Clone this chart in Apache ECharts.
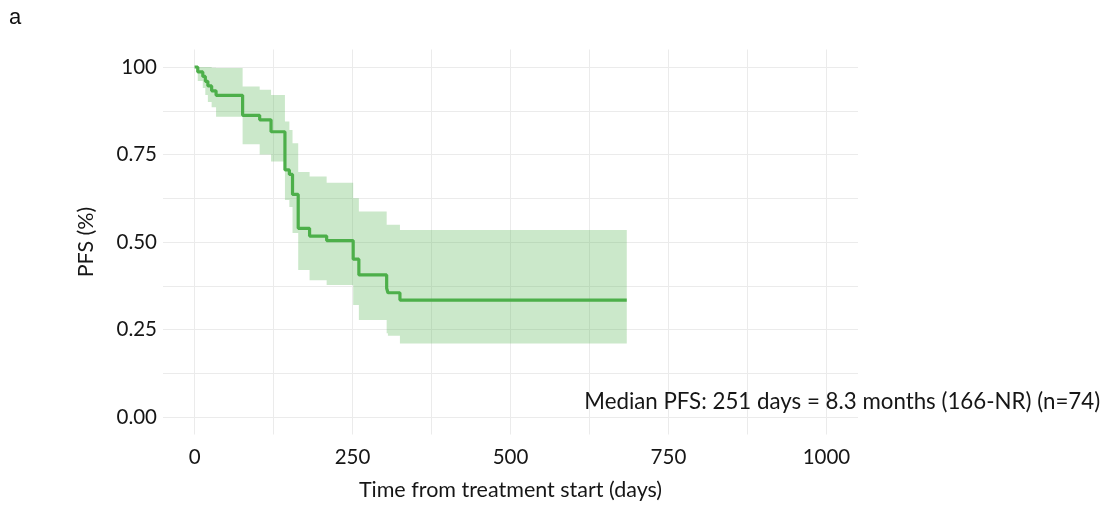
<!DOCTYPE html>
<html>
<head>
<meta charset="utf-8">
<script src="https://cdn.jsdelivr.net/npm/echarts@6/dist/echarts.min.js"></script>
<style>
  html, body { margin: 0; padding: 0; background: #fff; }
  #chart { width: 1117px; height: 507px; }
</style>
</head>
<body>
<div id="chart"></div>
<script>
// Kaplan-Meier estimate of progression-free survival, with 95% confidence band
const days  = [0, 5, 13, 17, 21, 27, 34, 76, 103, 121, 143, 150, 155, 164, 182, 209, 251, 260, 304, 306, 325, 684];
const surv  = [1, 0.986, 0.973, 0.959, 0.946, 0.932, 0.919, 0.862, 0.849, 0.815, 0.706, 0.693, 0.636, 0.539, 0.517, 0.504, 0.451, 0.406, 0.368, 0.355, 0.334, 0.334];
const upper = [1, 1, 1, 1, 1, 0.998, 0.997, 0.944, 0.935, 0.92, 0.844, 0.82, 0.782, 0.70, 0.687, 0.669, 0.625, 0.587, 0.549, 0.549, 0.534, 0.534];
const lower = [1, 0.96, 0.94, 0.92, 0.90, 0.885, 0.858, 0.779, 0.75, 0.73, 0.62, 0.60, 0.526, 0.42, 0.391, 0.377, 0.32, 0.277, 0.239, 0.232, 0.21, 0.21];

const xTickLabels = [0, 250, 500, 750, 1000];
const xGridValues = [0, 125, 250, 375, 500, 625, 750, 875, 1000];
const yTickLabels = [0, 0.25, 0.5, 0.75, 1];
const yGridValues = [0, 0.125, 0.25, 0.375, 0.5, 0.625, 0.75, 0.875, 1];

const annotation = 'Median PFS: 251 days = 8.3 months (166-NR) (n=74)';
const annotationAt = [1025, 0.043];

const FONT = 'Lato';
const TEXT = '#161616';
const GREEN = '#4DAF4A';
const BAND = 'rgba(77,175,74,0.29)';
const GRID = '#ebebeb';

// Step-shaped outline of the confidence band: upper edge forward, lower edge back
function bandOutline(api) {
  const pts = [];
  for (let i = 0; i < days.length; i++) {
    if (i > 0) pts.push(api.coord([days[i], upper[i - 1]]));
    pts.push(api.coord([days[i], upper[i]]));
  }
  for (let i = days.length - 1; i >= 0; i--) {
    pts.push(api.coord([days[i], lower[i]]));
    if (i > 0) pts.push(api.coord([days[i], lower[i - 1]]));
  }
  return pts;
}

const chart = echarts.init(document.getElementById('chart'), null, { renderer: 'canvas' });

chart.setOption({
  animation: false,
  backgroundColor: '#ffffff',
  textStyle: { fontFamily: FONT },
  graphic: [{
    type: 'text', left: 9, top: 7,
    style: { text: 'a', font: '22px "Liberation Sans", Arial, sans-serif', fill: '#111' }
  }],
  grid: { left: 163, right: 259, top: 49.5, bottom: 72.5, containLabel: false },
  xAxis: {
    type: 'value', min: -50, max: 1050,
    name: 'Time from treatment start (days)',
    nameLocation: 'middle', nameGap: 45,
    nameTextStyle: { fontFamily: FONT, fontSize: 21.5, color: TEXT },
    axisLine: { show: false },
    axisTick: { show: false, customValues: xGridValues },
    axisLabel: {
      customValues: xTickLabels, margin: 12,
      fontFamily: FONT, fontSize: 20.5, color: TEXT,
      formatter: v => String(v)
    },
    splitLine: { show: true, lineStyle: { color: GRID, width: 1 } }
  },
  yAxis: {
    type: 'value', min: -0.05, max: 1.05,
    name: 'PFS (%)',
    nameLocation: 'middle', nameGap: 66, nameRotate: 90,
    nameTextStyle: { fontFamily: FONT, fontSize: 21.5, color: TEXT },
    axisLine: { show: false },
    axisTick: { show: false, customValues: yGridValues },
    axisLabel: {
      customValues: yTickLabels, margin: 6,
      fontFamily: FONT, fontSize: 20.5, color: TEXT,
      formatter: v => (v === 1 ? '100' : v.toFixed(2))
    },
    splitLine: { show: true, lineStyle: { color: GRID, width: 1 } }
  },
  series: [
    {
      name: 'band', type: 'custom', silent: true,
      data: [[days[0], surv[0]]],
      renderItem: (params, api) => ({
        type: 'polygon',
        shape: { points: bandOutline(api) },
        style: { fill: BAND, stroke: 'none' }
      })
    },
    {
      name: 'PFS', type: 'line', step: 'end',
      symbol: 'none',
      lineStyle: { color: GREEN, width: 3.2 },
      data: days.map((d, i) => [d, surv[i]])
    },
    {
      name: 'median', type: 'scatter', symbolSize: 0, silent: true,
      itemStyle: { opacity: 1 },
      data: [annotationAt],
      label: {
        show: true, position: 'inside', formatter: annotation,
        fontFamily: FONT, fontSize: 22.3, color: TEXT, opacity: 1
      }
    }
  ]
});
</script>
</body>
</html>
